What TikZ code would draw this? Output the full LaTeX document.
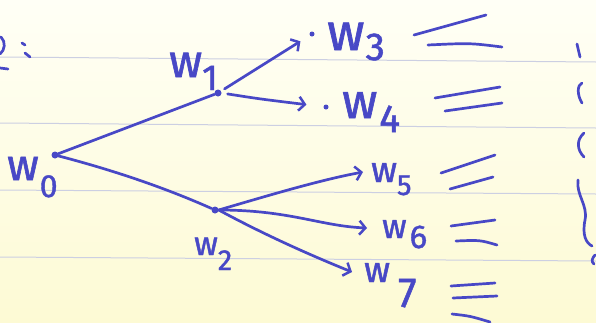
\documentclass[tikz,border=0pt]{standalone}
\usepackage{fontspec}
\setmainfont{Fira Sans}
\newfontfamily\handfont[FakeBold=1.3]{Fira Sans}
\usetikzlibrary{arrows.meta}
\definecolor{pen}{RGB}{72,72,198}
\definecolor{ruling}{RGB}{204,207,226}
\definecolor{papertop}{RGB}{255,255,246}
\definecolor{paperbot}{RGB}{253,250,212}
% handwritten label: w plus a lowered index
\newcommand{\wlbl}[5]{{\fontsize{#1}{#1}\selectfont w}\hspace{#3pt}\raisebox{-#4pt}{\fontsize{#2}{#2}\selectfont #5}}
\begin{document}
\begin{tikzpicture}[x=1pt,y=-1pt,
  ink/.style={draw=pen,line width=2.7pt,line cap=round,line join=round},
  arr/.style={ink,-{Straight Barb[length=6pt,width=14pt,line width=2.5pt]}},
  dotmark/.style={circle,fill=pen,inner sep=0pt,minimum size=7pt},
  lbl/.style={text=pen,inner sep=0pt,anchor=base west,font=\handfont},
  rulestyle/.style={draw=ruling,line width=1pt}]
% paper
\shade[top color=papertop,bottom color=paperbot] (0,0) rectangle (596,322);
\useasboundingbox (0,0) rectangle (596,322);
\draw[rulestyle] (0,57) -- (596,62);
\draw[rulestyle] (0,123) -- (596,128);
\draw[rulestyle] (0,190) -- (596,194);
\draw[rulestyle] (0,257) -- (596,261);

% tree points
\node[dotmark] (w0) at (55,155) {};
\node[dotmark] (w1) at (218,93) {};
\node[dotmark] (w2) at (215,210) {};
\node[dotmark,minimum size=5pt] (w3) at (312,34) {};
\node[dotmark,minimum size=5pt] (w4) at (326,107) {};
\coordinate (w5) at (363,172);
\coordinate (w6) at (367,228);
\coordinate (w7) at (352,272);

% labels
\node[lbl] (l0) at (7,180) {\wlbl{44}{32}{1}{17}{0}};
\node[lbl] (l1) at (169,77) {\wlbl{46}{36}{0}{13}{1}};
\node[lbl] (l2) at (194,255) {\wlbl{33}{29}{0}{15}{2}};
\node[lbl] (l3) at (327,50) {\wlbl{52}{39}{1}{10}{3}};
\node[lbl] (l4) at (342,118) {\wlbl{49}{39}{2}{14}{4}};
\node[lbl] (l5) at (371,182) {\wlbl{36}{29}{0}{13}{5}};
\node[lbl] (l6) at (382,238) {\wlbl{34}{33}{3}{10}{6}};
\node[lbl] (l7) at (364,282) {\wlbl{36}{42}{8}{25}{7}};

% connectors
\draw[ink] (w0) -- (w1);
\draw[ink] (w0) .. controls (120,172) and (170,190) .. (w2);
\draw[arr,shorten <=4pt,shorten >=11pt] (w1) -- (w3);
\draw[arr,shorten <=6pt,shorten >=17pt] (w1.east) .. controls (260,99) .. (w4);
\draw[arr] (w2.east) .. controls (270,195) and (320,180) .. (w5);
\draw[arr] (w2.east) .. controls (290,210) and (320,226) .. (w6);
\draw[arr] (w2.east) .. controls (265,235) and (310,255) .. (w7);

% double strokes on the right
\draw[ink] (414,35) -- (486,15);
\draw[ink] (428,45) .. controls (470,43) .. (502,47);
\draw[ink] (435,98) -- (500,87);
\draw[ink] (445,111) -- (502,103);
\draw[ink] (441,173) -- (495,155);
\draw[ink] (450,189) -- (493,177);
\draw[ink] (451,226) -- (495,220);
\draw[ink] (456,241) .. controls (480,240) .. (497,245);
\draw[ink] (451,286) -- (495,283);
\draw[ink] (453,298) -- (497,296);
\draw[ink] (452,314) .. controls (470,316) .. (490,322);

% marks at the left edge
\draw[ink] (1,37) .. controls (6,42) and (5,50) .. (0,54);
\draw[ink] (0,68) -- (8,69);
\draw[ink] (22,43) -- (25,45);
\draw[ink] (25,53) -- (30,57);

% marks at the right edge
\draw[ink] (577,44) -- (580,57);
\draw[ink] (582,83) .. controls (577,85) and (577,95) .. (582,103);
\draw[ink] (584,133) .. controls (576,140) and (577,150) .. (584,157);
\draw[ink] (578,180) .. controls (576,195) and (588,205) .. (585,220) .. controls (582,235) and (586,243) .. (592,246);
\draw[ink] (595,255) .. controls (592,258) and (591,262) .. (594,264);
\end{tikzpicture}
\end{document}
